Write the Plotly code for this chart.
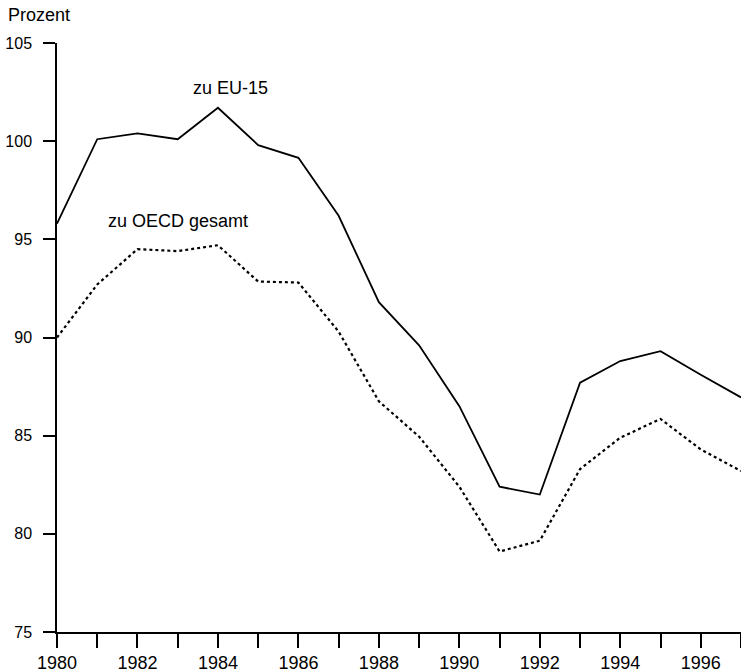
import plotly.graph_objects as go

# Jahre und Werte (Prozent)
years = list(range(1980, 1998))
eu15 = [95.8, 100.1, 100.4, 100.1, 101.7, 99.8, 99.15, 96.2, 91.8, 89.6,
        86.5, 82.4, 82.0, 87.7, 88.8, 89.3, 88.1, 86.95]
oecd = [90.0, 92.7, 94.5, 94.4, 94.7, 92.85, 92.8, 90.3, 86.75, 84.95,
        82.4, 79.1, 79.65, 83.3, 84.9, 85.85, 84.3, 83.2]

year_labels = [str(y) if y % 2 == 0 else "" for y in years]
y_ticks = [75, 80, 85, 90, 95, 100, 105]

fig = go.Figure()

fig.add_trace(go.Scatter(
    x=years, y=eu15, mode="lines", name="zu EU-15",
    line=dict(color="black", width=1.8), cliponaxis=False
))
fig.add_trace(go.Scatter(
    x=years, y=oecd, mode="lines", name="zu OECD gesamt",
    line=dict(color="black", width=2.2, dash="dot"), cliponaxis=False
))

# Beschriftungen an den Linien
fig.add_annotation(x=1984.3, y=102.7, text="zu EU-15", showarrow=False,
                   font=dict(size=18, color="black"))
fig.add_annotation(x=1983.0, y=95.95, text="zu OECD gesamt", showarrow=False,
                   font=dict(size=18, color="black"))
fig.add_annotation(x=0, y=1, xref="paper", yref="paper", xshift=-51, yshift=28,
                   xanchor="left", yanchor="middle", text="Prozent", showarrow=False,
                   font=dict(size=18, color="black"))

fig.update_layout(
    width=741, height=672,
    margin=dict(l=57, r=0, t=43, b=40, autoexpand=False),
    paper_bgcolor="white", plot_bgcolor="white",
    font=dict(family="Liberation Sans, Arial, sans-serif", size=17, color="black"),
    showlegend=False,
)
fig.update_xaxes(
    range=[1980, 1997], tickvals=years, ticktext=year_labels,
    showline=True, linecolor="black", linewidth=1.5,
    ticks="outside", ticklen=14, tickwidth=1.5, tickcolor="black",
    showgrid=False, zeroline=False, tickfont=dict(size=18),
    automargin=False, ticklabelstandoff=0
)
fig.update_yaxes(
    range=[75, 105], tickvals=y_ticks,
    showline=True, linecolor="black", linewidth=1.5,
    ticks="outside", ticklen=12, tickwidth=1.5, tickcolor="black",
    showgrid=False, zeroline=False, tickfont=dict(size=16),
    automargin=False, ticklabelstandoff=8
)

# Seitenrand des Browsers entfernen, damit die Grafik genau ins Fenster passt
fig.write_html("out.html",
               config={"displayModeBar": False},
               post_script="document.body.style.margin='0';"
                           "document.body.style.overflow='hidden';")
